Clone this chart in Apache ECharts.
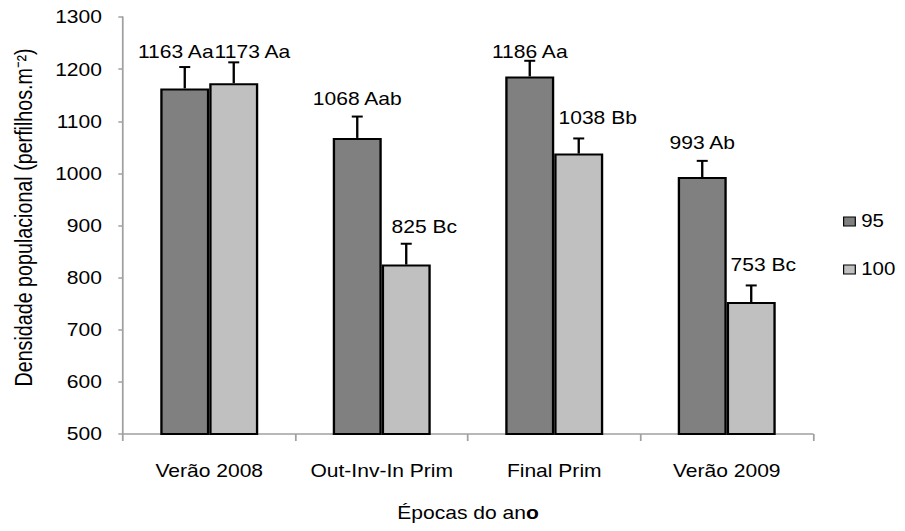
<!DOCTYPE html>
<html>
<head>
<meta charset="utf-8">
<script src="https://cdn.jsdelivr.net/npm/echarts@6/dist/echarts.min.js"></script>
<style>
  html, body { margin: 0; padding: 0; background: #fff; overflow: hidden; }
  /* the chart is laid out narrower and widened horizontally */
  #main { width: 774px; height: 531px; transform: scaleX(1.16925); transform-origin: 0 0; }
</style>
</head>
<body>
<div id="main"></div>
<script>
// Épocas do ano
const categories = ['Verão 2008', 'Out-Inv-In Prim', 'Final Prim', 'Verão 2009'];
const seriesNames = ['95', '100'];

// Densidade populacional média por época
const values95  = [1163, 1068, 1186, 993];
const values100 = [1173, 825, 1038, 753];

// Erro padrão (barra superior)
const err95  = [41, 41, 30, 31];
const err100 = [40, 40, 29, 32];

// Letras do teste de médias
const letters95  = ['Aa', 'Aab', 'Aa', 'Ab'];
const letters100 = ['Aa', 'Bc', 'Bb', 'Bc'];

// Eixo Y
const yMin = 500, yMax = 1300, yStep = 100;

// ---- layout ----
const FONT = 'Arial, "Liberation Sans", sans-serif';
const FS = 18;
const BAR_FRAC = 0.284;
const colors = ['#808080', '#c0c0c0'];
// hand placement of the value labels (dx, dy from the top of the error bar)
const labelNudge = [
  [[-7.7, -15], [0, -17.7], [0, -9.3], [0, -18]],
  [[16, -10.7], [15.4, -17], [16.2, -20.6], [10.3, -21]]
];

const allVals = [values95, values100];
const allErr = [err95, err100];
const allLetters = [letters95, letters100];

function errorRenderer(s) {
  return function (params, api) {
    const ci = api.value(0), v = api.value(1), e = api.value(2);
    const catW = api.size([1, 0])[0];
    const bw = catW * BAR_FRAC;
    const base = api.coord([ci, v]);
    const cx = base[0] + (s === 0 ? -bw / 2 : bw / 2);
    const yTop = base[1];
    const yErr = api.coord([ci, v + e])[1];
    const capHalf = 4.7;
    const nd = labelNudge[s][params.dataIndex];
    const lineStyle = { stroke: '#000', lineWidth: 2 };
    return {
      type: 'group',
      children: [
        { type: 'line', shape: { x1: cx, y1: yTop, x2: cx, y2: yErr }, style: lineStyle },
        { type: 'line', shape: { x1: cx - capHalf, y1: yErr, x2: cx + capHalf, y2: yErr }, style: lineStyle },
        {
          type: 'text',
          x: cx + nd[0], y: yErr + nd[1],
          style: {
            text: v + ' ' + allLetters[s][params.dataIndex],
            align: 'center', verticalAlign: 'middle',
            font: FS + 'px ' + FONT, fill: '#000'
          }
        }
      ]
    };
  };
}

const chart = echarts.init(document.getElementById('main'), null, { renderer: 'svg' });

const barSeries = seriesNames.map((name, s) => ({
  name: name,
  type: 'bar',
  data: allVals[s],
  barWidth: (BAR_FRAC * 100) + '%',
  barGap: '0%',
  itemStyle: { color: colors[s], borderColor: '#000', borderWidth: 2 },
  z: 2
}));

const errSeries = seriesNames.map((name, s) => ({
  name: 'erro ' + name,
  type: 'custom',
  renderItem: errorRenderer(s),
  data: categories.map((c, i) => [i, allVals[s][i], allErr[s][i]]),
  z: 5,
  silent: true
}));

chart.setOption({
  animation: false,
  backgroundColor: '#fff',
  textStyle: { fontFamily: FONT, color: '#000' },
  grid: { left: 105.2, right: 78.7, top: 17, bottom: 97, containLabel: false },
  legend: {
    data: seriesNames,
    orient: 'vertical',
    left: 721, top: 212.5,
    padding: 0,
    itemWidth: 10, itemHeight: 9,
    itemGap: 30,
    icon: 'rect',
    itemStyle: { borderColor: '#000', borderWidth: 1 },
    textStyle: { fontFamily: FONT, fontSize: 17.5, color: '#000' }
  },
  xAxis: {
    type: 'category',
    data: categories,
    name: '{n|Épocas do an}{b|o}',
    nameLocation: 'middle',
    nameGap: 70,
    nameTextStyle: {
      rich: {
        n: { fontFamily: FONT, fontSize: FS, color: '#000' },
        b: { fontFamily: FONT, fontSize: FS, color: '#000', fontWeight: 'bold' }
      }
    },
    axisLine: { lineStyle: { color: '#a0a0a0', width: 1.5 } },
    axisTick: { show: true, alignWithLabel: false, length: 7, lineStyle: { color: '#a0a0a0', width: 1.5 } },
    axisLabel: { interval: 0, fontFamily: FONT, fontSize: FS, color: '#000', margin: 28 },
    splitLine: { show: false }
  },
  yAxis: {
    type: 'value',
    min: yMin, max: yMax, interval: yStep,
    name: 'Densidade populacional (perfilhos.m⁻²)',
    nameLocation: 'middle',
    nameGap: 74,
    nameTextStyle: { fontFamily: FONT, fontSize: 19.7, color: '#000', padding: [0, 0, 0, 16] },
    axisLine: { show: true, lineStyle: { color: '#a0a0a0', width: 1.5 } },
    axisTick: { show: true, length: 4, lineStyle: { color: '#a0a0a0', width: 1.5 } },
    axisLabel: { fontFamily: FONT, fontSize: FS, color: '#000', margin: 18, formatter: v => String(v) },
    splitLine: { show: false }
  },
  series: barSeries.concat(errSeries)
});
</script>
</body>
</html>
